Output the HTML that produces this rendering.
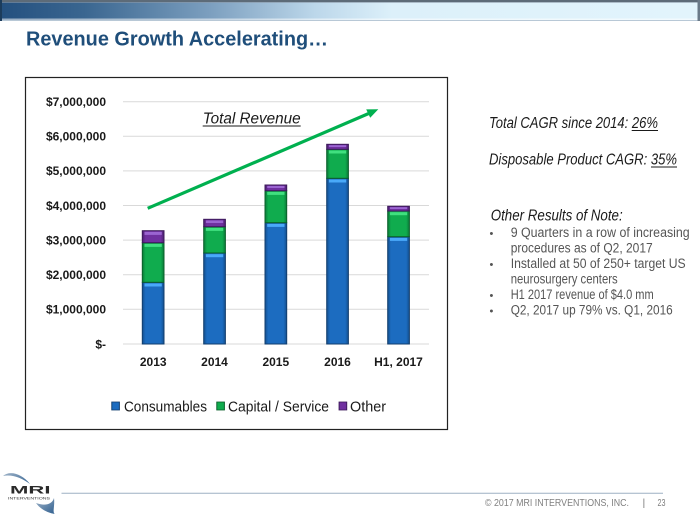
<!DOCTYPE html>
<html>
<head>
<meta charset="utf-8">
<style>
html,body{margin:0;padding:0;background:#fff;}
svg{display:block;}
text{font-family:"Liberation Sans",sans-serif;}
</style>
</head>
<body>
<svg width="700" height="525" viewBox="0 0 700 525" xmlns="http://www.w3.org/2000/svg">
<defs>
  <linearGradient id="hdr" x1="0" y1="0" x2="1" y2="0">
    <stop offset="0" stop-color="#24507f"/>
    <stop offset="0.12" stop-color="#3a6690"/>
    <stop offset="0.3" stop-color="#7c9fbf"/>
    <stop offset="0.45" stop-color="#bcd7ea"/>
    <stop offset="0.56" stop-color="#dcf0fa"/>
    <stop offset="1" stop-color="#e2f4fc"/>
  </linearGradient>
  <linearGradient id="gb" x1="0" y1="0" x2="1" y2="0">
    <stop offset="0" stop-color="#14508f"/>
    <stop offset="0.15" stop-color="#1c6cc0"/>
    <stop offset="0.85" stop-color="#1c6cc0"/>
    <stop offset="1" stop-color="#14508f"/>
  </linearGradient>
  <linearGradient id="gg" x1="0" y1="0" x2="1" y2="0">
    <stop offset="0" stop-color="#0a7a38"/>
    <stop offset="0.15" stop-color="#10ac4e"/>
    <stop offset="0.85" stop-color="#10ac4e"/>
    <stop offset="1" stop-color="#0a7a38"/>
  </linearGradient>
  <linearGradient id="gp" x1="0" y1="0" x2="1" y2="0">
    <stop offset="0" stop-color="#4c2070"/>
    <stop offset="0.15" stop-color="#7030a0"/>
    <stop offset="0.85" stop-color="#7030a0"/>
    <stop offset="1" stop-color="#4c2070"/>
  </linearGradient>
  <linearGradient id="logo" x1="0" y1="0" x2="1" y2="1">
    <stop offset="0" stop-color="#9fb3c8"/>
    <stop offset="1" stop-color="#2f5f8f"/>
  </linearGradient>
</defs>

<!-- header bar -->
<rect x="0" y="0" width="700" height="21" fill="url(#hdr)"/>
<rect x="0" y="0" width="700" height="2" fill="#5d6b78"/>
<rect x="0" y="2" width="700" height="1" fill="#8a98a6" opacity="0.6"/>
<rect x="0" y="18.5" width="700" height="1.5" fill="#ffffff" opacity="0.55"/>
<rect x="0" y="20" width="700" height="1" fill="#b8c8d6"/>
<rect x="0" y="0" width="2" height="21" fill="#1c3c5c"/>
<rect x="697.5" y="0" width="2.5" height="21" fill="#6a7a88"/>

<!-- title -->
<text x="26" y="45.5" font-size="20.5" font-weight="bold" fill="#1f4e7a" textLength="302" lengthAdjust="spacingAndGlyphs">Revenue Growth Accelerating…</text>

<!-- chart box -->
<rect x="25.5" y="77.5" width="422" height="352" fill="#fff" stroke="#222" stroke-width="1.2"/>

<!-- gridlines -->
<g stroke="#d9d9d9" stroke-width="1">
  <line x1="123" y1="101.7" x2="429" y2="101.7"/>
  <line x1="123" y1="136.3" x2="429" y2="136.3"/>
  <line x1="123" y1="170.9" x2="429" y2="170.9"/>
  <line x1="123" y1="205.5" x2="429" y2="205.5"/>
  <line x1="123" y1="240.1" x2="429" y2="240.1"/>
  <line x1="123" y1="274.7" x2="429" y2="274.7"/>
  <line x1="123" y1="309.3" x2="429" y2="309.3"/>
  <line x1="123" y1="344" x2="429" y2="344"/>
</g>

<!-- y labels -->
<g font-size="12" font-weight="bold" fill="#1a1a1a" text-anchor="end">
  <text x="106" y="106">$7,000,000</text>
  <text x="106" y="140.6">$6,000,000</text>
  <text x="106" y="175.2">$5,000,000</text>
  <text x="106" y="209.8">$4,000,000</text>
  <text x="106" y="244.4">$3,000,000</text>
  <text x="106" y="279">$2,000,000</text>
  <text x="106" y="313.6">$1,000,000</text>
  <text x="106" y="348.3">$-</text>
</g>

<!-- bars -->
<g stroke-width="1">
  <!-- 2013 -->
  <rect x="142.3" y="282.3" width="21.7" height="61.7" fill="url(#gb)" stroke="#123e6e"/>
  <rect x="144.5" y="283.5" width="17.3" height="3" fill="#4fb0ff" opacity="0.9"/>
  <rect x="142.3" y="242.7" width="21.7" height="39.6" fill="url(#gg)" stroke="#0a5f2a"/>
  <rect x="144.5" y="243.9" width="17.3" height="3" fill="#46e585" opacity="0.9"/>
  <rect x="142.3" y="230.7" width="21.7" height="12" fill="url(#gp)" stroke="#3c1a5a"/>
  <rect x="144.5" y="231.9" width="17.3" height="3" fill="#a06ad6" opacity="0.9"/>
  <!-- 2014 -->
  <rect x="203.7" y="253" width="21.7" height="91" fill="url(#gb)" stroke="#123e6e"/>
  <rect x="205.9" y="254.2" width="17.3" height="3" fill="#4fb0ff" opacity="0.9"/>
  <rect x="203.7" y="226.7" width="21.7" height="26.3" fill="url(#gg)" stroke="#0a5f2a"/>
  <rect x="205.9" y="227.9" width="17.3" height="3" fill="#46e585" opacity="0.9"/>
  <rect x="203.7" y="219.3" width="21.7" height="7.4" fill="url(#gp)" stroke="#3c1a5a"/>
  <rect x="205.9" y="220.5" width="17.3" height="2.5" fill="#a06ad6" opacity="0.9"/>
  <!-- 2015 -->
  <rect x="265" y="222.7" width="21.7" height="121.3" fill="url(#gb)" stroke="#123e6e"/>
  <rect x="267.2" y="223.9" width="17.3" height="3" fill="#4fb0ff" opacity="0.9"/>
  <rect x="265" y="190.7" width="21.7" height="32" fill="url(#gg)" stroke="#0a5f2a"/>
  <rect x="267.2" y="191.9" width="17.3" height="3" fill="#46e585" opacity="0.9"/>
  <rect x="265" y="185" width="21.7" height="5.7" fill="url(#gp)" stroke="#3c1a5a"/>
  <rect x="267.2" y="186" width="17.3" height="2" fill="#a06ad6" opacity="0.9"/>
  <!-- 2016 -->
  <rect x="326.7" y="178.3" width="21.7" height="165.7" fill="url(#gb)" stroke="#123e6e"/>
  <rect x="328.9" y="179.5" width="17.3" height="3" fill="#4fb0ff" opacity="0.9"/>
  <rect x="326.7" y="149.3" width="21.7" height="29" fill="url(#gg)" stroke="#0a5f2a"/>
  <rect x="328.9" y="150.5" width="17.3" height="3" fill="#46e585" opacity="0.9"/>
  <rect x="326.7" y="144.3" width="21.7" height="5" fill="url(#gp)" stroke="#3c1a5a"/>
  <rect x="328.9" y="145.2" width="17.3" height="1.8" fill="#a06ad6" opacity="0.9"/>
  <!-- H1 2017 -->
  <rect x="387.7" y="236.7" width="21.7" height="107.3" fill="url(#gb)" stroke="#123e6e"/>
  <rect x="389.9" y="237.9" width="17.3" height="3" fill="#4fb0ff" opacity="0.9"/>
  <rect x="387.7" y="211" width="21.7" height="25.7" fill="url(#gg)" stroke="#0a5f2a"/>
  <rect x="389.9" y="212.2" width="17.3" height="3" fill="#46e585" opacity="0.9"/>
  <rect x="387.7" y="206.3" width="21.7" height="4.7" fill="url(#gp)" stroke="#3c1a5a"/>
  <rect x="389.9" y="207.2" width="17.3" height="1.8" fill="#a06ad6" opacity="0.9"/>
</g>

<!-- x labels -->
<g font-size="12" font-weight="bold" fill="#1a1a1a" text-anchor="middle">
  <text x="153.2" y="366">2013</text>
  <text x="214.5" y="366">2014</text>
  <text x="275.8" y="366">2015</text>
  <text x="337.5" y="366">2016</text>
  <text x="398.5" y="366">H1, 2017</text>
</g>

<!-- arrow -->
<line x1="147.7" y1="208.3" x2="369" y2="113.4" stroke="#00b04f" stroke-width="3.2"/>
<polygon points="378.3,109.3 366.2,109.4 370.2,117.8" fill="#00b04f"/>

<!-- Total Revenue -->
<text x="202.7" y="123.3" font-size="15.5" font-style="italic" fill="#1a1a1a" textLength="98" lengthAdjust="spacingAndGlyphs">Total Revenue</text>
<line x1="202.7" y1="126" x2="300.7" y2="126" stroke="#1a1a1a" stroke-width="1"/>

<!-- legend -->
<rect x="111.7" y="402" width="7.8" height="8" fill="url(#gb)" stroke="#123e6e" stroke-width="0.8"/>
<text x="124" y="411.3" font-size="14.5" fill="#1a1a1a" textLength="83" lengthAdjust="spacingAndGlyphs">Consumables</text>
<rect x="216.7" y="402" width="7.8" height="8" fill="url(#gg)" stroke="#0a5f2a" stroke-width="0.8"/>
<text x="228" y="411.3" font-size="14.5" fill="#1a1a1a" textLength="101" lengthAdjust="spacingAndGlyphs">Capital / Service</text>
<rect x="339" y="402" width="7.8" height="8" fill="url(#gp)" stroke="#3c1a5a" stroke-width="0.8"/>
<text x="350" y="411.3" font-size="14.5" fill="#1a1a1a" textLength="36" lengthAdjust="spacingAndGlyphs">Other</text>

<!-- right text -->
<g fill="#1a1a1a" font-style="italic" font-size="15.5">
  <text x="489" y="128" textLength="169" lengthAdjust="spacingAndGlyphs">Total CAGR since 2014: 26%</text>
  <line x1="631.7" y1="130.5" x2="658" y2="130.5" stroke="#1a1a1a" stroke-width="1"/>
  <text x="489" y="164.5" textLength="188" lengthAdjust="spacingAndGlyphs">Disposable Product CAGR: 35%</text>
  <line x1="651" y1="167" x2="677" y2="167" stroke="#1a1a1a" stroke-width="1"/>
  <text x="490.7" y="220.5" textLength="132" lengthAdjust="spacingAndGlyphs">Other Results of Note:</text>
</g>
<g fill="#555" font-size="13.5">
  <text x="489.5" y="237" font-size="11">•</text>
  <text x="510.7" y="237" textLength="179" lengthAdjust="spacingAndGlyphs">9 Quarters in a row  of increasing</text>
  <text x="510.7" y="252.5" textLength="142" lengthAdjust="spacingAndGlyphs">procedures as of Q2, 2017</text>
  <text x="489.5" y="268" font-size="11">•</text>
  <text x="510.7" y="268" textLength="175" lengthAdjust="spacingAndGlyphs">Installed at 50 of 250+ target US</text>
  <text x="510.7" y="283.5" textLength="107" lengthAdjust="spacingAndGlyphs">neurosurgery centers</text>
  <text x="489.5" y="299" font-size="11">•</text>
  <text x="510.7" y="299" textLength="143" lengthAdjust="spacingAndGlyphs">H1 2017 revenue of $4.0 mm</text>
  <text x="489.5" y="314.5" font-size="11">•</text>
  <text x="510.7" y="314.5" textLength="162" lengthAdjust="spacingAndGlyphs">Q2, 2017 up 79% vs. Q1, 2016</text>
</g>

<!-- footer -->
<line x1="61.5" y1="493.3" x2="663" y2="493.3" stroke="#9db0c4" stroke-width="1"/>
<text x="485" y="506" font-size="10.5" fill="#7f7f7f" textLength="144" lengthAdjust="spacingAndGlyphs">© 2017 MRI INTERVENTIONS, INC.</text>
<text x="642.5" y="506" font-size="10.5" fill="#7f7f7f">|</text>
<text x="657.5" y="506" font-size="10.5" fill="#7f7f7f" textLength="8" lengthAdjust="spacingAndGlyphs">23</text>

<!-- logo -->
<path d="M3,476 C10,470 22,474 30,484 C22,478 12,474 3,476 Z" fill="url(#logo)"/>
<path d="M36,503 C44,506 52,505 54,498 C55,506 52,513 55,514 C48,513 40,509 36,503 Z" fill="url(#logo)"/>
<text x="10" y="493.5" font-size="11" font-weight="bold" fill="#2a2a2a" textLength="40.5" lengthAdjust="spacingAndGlyphs">MRI</text>
<text x="8" y="499.5" font-size="3.2" fill="#333" textLength="42" lengthAdjust="spacingAndGlyphs">INTERVENTIONS</text>
</svg>
</body>
</html>
